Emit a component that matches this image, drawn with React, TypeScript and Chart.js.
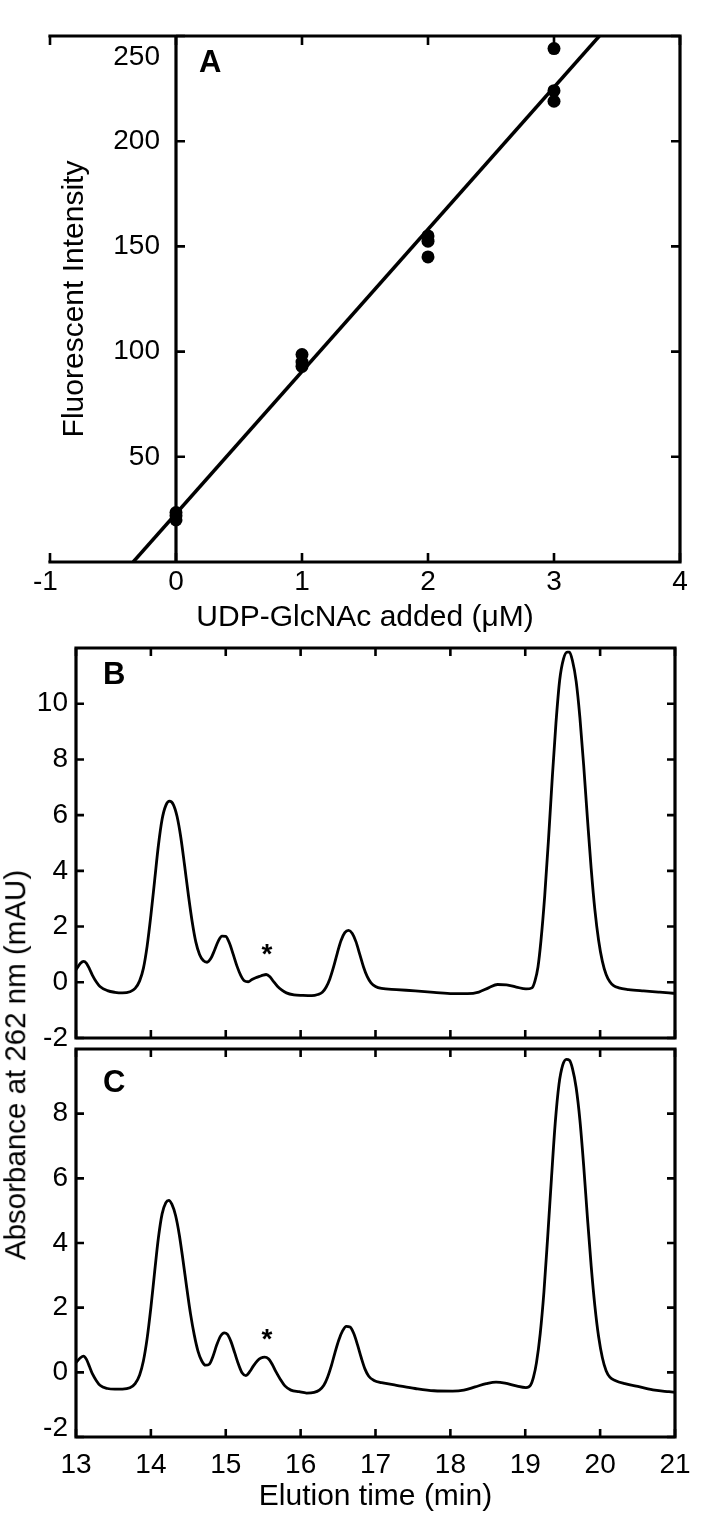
import React, { useEffect, useRef } from "react";
import { Chart, registerables } from "chart.js";

Chart.register(...registerables);

const FONT = '"Liberation Sans", Arial, Helvetica, sans-serif';

// ---------- Panel A : fluorescence vs UDP-GlcNAc ----------
const A_DOSE = [0, 0, 0, 1, 1, 1, 2, 2, 2, 3, 3, 3];
const A_INTENSITY = [23.5, 22, 20, 98.6, 95, 93, 155, 152.5, 145, 244, 224, 219];
const A_FIT_DOSE = [-0.34, 3.36];
const A_FIT_INTENSITY = [0, 250];
const A_X_TICKS = [-1, 0, 1, 2, 3, 4];
const A_Y_TICKS = [50, 100, 150, 200, 250];

// ---------- Panels B and C : chromatograms ----------
const TIME_TICKS = [13, 14, 15, 16, 17, 18, 19, 20, 21];
const B_Y_TICKS = [-2, 0, 2, 4, 6, 8, 10];
const C_Y_TICKS = [-2, 0, 2, 4, 6, 8];

const B_TIME = [
  13.0, 13.06, 13.1, 13.14, 13.18, 13.22, 13.27, 13.32, 13.42, 13.52, 13.62, 13.72, 13.79, 13.85, 13.9,
  13.95, 14.0, 14.05, 14.1, 14.15, 14.2, 14.25, 14.3, 14.35, 14.4, 14.45, 14.5, 14.55, 14.6,
  14.65, 14.7, 14.75, 14.8, 14.85, 14.9, 14.95, 15.0, 15.05, 15.1, 15.15, 15.2, 15.25, 15.3,
  15.35, 15.4, 15.45, 15.5, 15.54, 15.59, 15.64, 15.69, 15.75, 15.81, 15.91, 16.03, 16.15, 16.23,
  16.29, 16.34, 16.39, 16.44, 16.49, 16.54, 16.59, 16.64, 16.69, 16.74, 16.79, 16.84, 16.89, 16.94,
  17.0, 17.08, 17.28, 17.53, 17.78, 18.03, 18.23, 18.38, 18.51, 18.63, 18.75, 18.88, 19.01, 19.09, 19.13,
  19.17, 19.21, 19.26, 19.31, 19.36, 19.41, 19.46, 19.51, 19.56, 19.59, 19.63, 19.68, 19.73, 19.78,
  19.83, 19.88, 19.93, 19.98, 20.03, 20.08, 20.13, 20.18, 20.25, 20.38, 20.58, 20.78, 20.92, 21.0,
];
const B_ABS = [
  0.45, 0.68, 0.75, 0.68, 0.48, 0.25, 0.02, -0.15, -0.3, -0.36, -0.38, -0.34, -0.22, 0.05, 0.5,
  1.3, 2.4, 3.65, 4.9, 5.85, 6.35, 6.5, 6.38, 5.95, 5.2, 4.2, 3.15, 2.2, 1.45,
  1.0, 0.78, 0.72, 0.85, 1.15, 1.48, 1.66, 1.65, 1.4, 1.0, 0.58, 0.25, 0.05, 0.02,
  0.1, 0.16, 0.21, 0.26, 0.28, 0.2, 0.02, -0.14, -0.28, -0.38, -0.45, -0.47, -0.48, -0.44,
  -0.36, -0.18, 0.12, 0.55, 1.05, 1.5, 1.78, 1.86, 1.75, 1.45, 1.0, 0.55, 0.2, -0.02,
  -0.15, -0.22, -0.26, -0.31, -0.36, -0.41, -0.41, -0.35, -0.2, -0.08, -0.09, -0.17, -0.24, -0.2, 0.05,
  0.55, 1.5, 3.1, 5.1, 7.3, 9.3, 10.85, 11.6, 11.85, 11.85, 11.55, 10.8, 9.5, 7.8,
  5.9, 4.1, 2.6, 1.5, 0.75, 0.28, 0.02, -0.12, -0.2, -0.26, -0.31, -0.35, -0.38, -0.4,
];

const C_TIME = [
  13.0, 13.06, 13.1, 13.14, 13.18, 13.22, 13.27, 13.32, 13.42, 13.52, 13.62, 13.72, 13.79, 13.85, 13.9,
  13.95, 14.0, 14.05, 14.1, 14.15, 14.2, 14.24, 14.28, 14.33, 14.38, 14.43, 14.48, 14.53, 14.58,
  14.63, 14.68, 14.73, 14.78, 14.83, 14.88, 14.93, 14.98, 15.02, 15.07, 15.12, 15.17, 15.22, 15.27,
  15.32, 15.37, 15.42, 15.47, 15.52, 15.57, 15.62, 15.67, 15.73, 15.79, 15.87, 15.98, 16.08, 16.18,
  16.25, 16.31, 16.36, 16.41, 16.46, 16.51, 16.56, 16.61, 16.66, 16.71, 16.76, 16.81, 16.86, 16.91,
  16.98, 17.08, 17.28, 17.53, 17.78, 18.03, 18.18, 18.33, 18.48, 18.61, 18.73, 18.88, 19.01, 19.07,
  19.11, 19.15, 19.2, 19.25, 19.3, 19.35, 19.4, 19.45, 19.5, 19.55, 19.59, 19.63, 19.68, 19.73,
  19.78, 19.83, 19.88, 19.93, 19.98, 20.03, 20.08, 20.13, 20.2, 20.33, 20.53, 20.73, 20.92, 21.0,
];
const C_ABS = [
  0.3, 0.45, 0.5, 0.4, 0.18, -0.05, -0.25, -0.4, -0.5, -0.52, -0.52, -0.48, -0.35, -0.08, 0.35,
  1.05, 2.0, 3.1, 4.15, 4.9, 5.25, 5.32, 5.2, 4.85, 4.25, 3.45, 2.6, 1.8, 1.15,
  0.65, 0.35, 0.22, 0.25, 0.5, 0.85, 1.12, 1.22, 1.18, 0.95, 0.6, 0.25, -0.02, -0.1,
  0.02, 0.2, 0.35, 0.44, 0.47, 0.42, 0.25, 0.02, -0.22, -0.42, -0.55, -0.6, -0.64, -0.62,
  -0.55, -0.4, -0.15, 0.2, 0.62, 1.0, 1.28, 1.42, 1.4, 1.2, 0.85, 0.45, 0.1, -0.12,
  -0.25, -0.32, -0.4, -0.5, -0.57, -0.58, -0.55, -0.45, -0.35, -0.3, -0.33, -0.42, -0.47, -0.4,
  -0.15, 0.3, 1.2, 2.5, 4.2, 6.0, 7.7, 8.9, 9.5, 9.68, 9.65, 9.4, 8.8, 7.8,
  6.4, 4.8, 3.3, 2.05, 1.1, 0.45, 0.05, -0.15, -0.25, -0.35, -0.45, -0.55, -0.6, -0.62,
];

const STAR_TIME = 15.55;
const B_STAR_ABS = 1.2;
const C_STAR_ABS = 1.18;

// ---------- drawing helpers ----------
type FrameCfg = {
  box: boolean;
  axisAtX?: number;
  frameWidth: number;
  tickLen: number;
  xTicks: number[];
  yTicks: number[];
  xLabels?: number[];
  xLabelDy?: number;
  yLabels: number[];
  yLabelGap: number;
  yLabelShift?: Record<string, number>;
  tickFont: number;
  xTitle?: string;
  xTitleY?: number;
  yTitle?: string;
  yTitleX?: number;
  titleFont: number;
  letter: string;
  letterDx: number;
  letterDy: number;
  star?: { x: number; y: number };
};

function framePlugin(cfg: FrameCfg) {
  return {
    id: "frame",
    afterDraw(chart: any) {
      const ctx: CanvasRenderingContext2D = chart.ctx;
      const { left, right, top, bottom } = chart.chartArea;
      const xs = chart.scales.x;
      const ys = chart.scales.y;
      const x0 = cfg.axisAtX !== undefined ? xs.getPixelForValue(cfg.axisAtX) : left;
      ctx.save();
      ctx.strokeStyle = "#000";
      ctx.fillStyle = "#000";
      ctx.lineWidth = cfg.frameWidth;
      ctx.lineCap = "square";
      ctx.beginPath();
      if (cfg.box) {
        ctx.rect(left, top, right - left, bottom - top);
      } else {
        ctx.moveTo(left, top);
        ctx.lineTo(right, top);
        ctx.lineTo(right, bottom);
        ctx.lineTo(left, bottom);
        ctx.moveTo(x0, top);
        ctx.lineTo(x0, bottom);
      }
      ctx.stroke();

      ctx.lineWidth = 2.6;
      ctx.lineCap = "butt";
      ctx.beginPath();
      for (const v of cfg.xTicks) {
        const px = xs.getPixelForValue(v);
        ctx.moveTo(px, bottom);
        ctx.lineTo(px, bottom - cfg.tickLen);
        ctx.moveTo(px, top);
        ctx.lineTo(px, top + cfg.tickLen);
      }
      for (const v of cfg.yTicks) {
        const py = ys.getPixelForValue(v);
        ctx.moveTo(x0, py);
        ctx.lineTo(x0 + cfg.tickLen, py);
        ctx.moveTo(right, py);
        ctx.lineTo(right - cfg.tickLen, py);
      }
      ctx.stroke();

      ctx.font = `${cfg.tickFont}px ${FONT}`;
      ctx.textBaseline = "middle";
      if (cfg.xLabels) {
        for (const v of cfg.xLabels) {
          const px = xs.getPixelForValue(v);
          const txt = String(Math.abs(v));
          const py = bottom + (cfg.xLabelDy || 20);
          ctx.textAlign = "center";
          ctx.fillText(txt, px, py);
          if (v < 0) {
            const w = ctx.measureText(txt).width;
            ctx.textAlign = "right";
            ctx.fillText("-", px - w / 2, py);
          }
        }
      }
      ctx.textAlign = "right";
      for (const v of cfg.yLabels) {
        const shift = (cfg.yLabelShift && cfg.yLabelShift[String(v)]) || 0;
        const py = ys.getPixelForValue(v) + shift;
        ctx.fillText(String(v), x0 - cfg.yLabelGap, py);
      }

      ctx.font = `${cfg.titleFont}px ${FONT}`;
      if (cfg.xTitle) {
        ctx.textAlign = "center";
        ctx.fillText(cfg.xTitle, (left + right) / 2, cfg.xTitleY || bottom + 56);
      }
      if (cfg.yTitle) {
        ctx.save();
        ctx.translate(cfg.yTitleX || 83, (top + bottom) / 2);
        ctx.rotate(-Math.PI / 2);
        ctx.textAlign = "center";
        ctx.textBaseline = "alphabetic";
        ctx.fillText(cfg.yTitle, 0, 0);
        ctx.restore();
      }

      ctx.font = `bold 31px ${FONT}`;
      ctx.textAlign = "left";
      ctx.textBaseline = "middle";
      ctx.fillText(cfg.letter, x0 + cfg.letterDx, top + cfg.letterDy);

      if (cfg.star) {
        ctx.font = `bold 28px ${FONT}`;
        ctx.textAlign = "center";
        ctx.fillText("*", xs.getPixelForValue(cfg.star.x), ys.getPixelForValue(cfg.star.y) + 6.5);
      }
      ctx.restore();
    },
  };
}

function baseOptions(padding: any, xMin: number, xMax: number, yMin: number, yMax: number) {
  return {
    responsive: false,
    animation: false,
    devicePixelRatio: 1,
    events: [],
    layout: { padding },
    plugins: { legend: { display: false }, tooltip: { enabled: false } },
    scales: {
      x: { type: "linear", min: xMin, max: xMax, display: false },
      y: { type: "linear", min: yMin, max: yMax, display: false },
    },
  };
}

function pairs(xs: number[], ys: number[]) {
  return xs.map((x, i) => ({ x, y: ys[i] }));
}

function buildA(): any {
  return {
    type: "scatter",
    data: {
      datasets: [
        {
          type: "line",
          data: pairs(A_FIT_DOSE, A_FIT_INTENSITY),
          borderColor: "#000",
          borderWidth: 3.5,
          pointRadius: 0,
          fill: false,
        },
        {
          type: "scatter",
          data: pairs(A_DOSE, A_INTENSITY),
          pointRadius: 6.5,
          backgroundColor: "#000",
          borderWidth: 0,
          clip: false,
        },
      ],
    },
    options: baseOptions({ left: 50, right: 25, top: 36, bottom: 98 }, -1, 4, 0, 250),
    plugins: [
      framePlugin({
        box: false,
        axisAtX: 0,
        frameWidth: 3.2,
        tickLen: 9,
        xTicks: A_X_TICKS,
        yTicks: A_Y_TICKS,
        xLabels: A_X_TICKS,
        xLabelDy: 20,
        yLabels: A_Y_TICKS,
        yLabelGap: 16,
        yLabelShift: { "250": 21 },
        tickFont: 28,
        xTitle: "UDP-GlcNAc added (\u03bcM)",
        xTitleY: 618,
        yTitle: "Fluorescent Intensity",
        yTitleX: 83,
        titleFont: 30,
        letter: "A",
        letterDx: 23,
        letterDy: 27,
      }),
    ],
  };
}

function buildChrom(time: number[], abs: number[], yMax: number, yTicks: number[], isC: boolean): any {
  return {
    type: "line",
    data: {
      datasets: [
        {
          data: pairs(time, abs),
          borderColor: "#000",
          borderWidth: 2.8,
          pointRadius: 0,
          fill: false,
          cubicInterpolationMode: "monotone",
        },
      ],
    },
    options: baseOptions(
      isC ? { left: 76, right: 30, top: 9, bottom: 81 } : { left: 76, right: 30, top: 18, bottom: 22 },
      13,
      21,
      -2,
      yMax
    ),
    plugins: [
      framePlugin({
        box: true,
        frameWidth: 3.2,
        tickLen: 8,
        xTicks: TIME_TICKS,
        yTicks: yTicks,
        xLabels: isC ? TIME_TICKS : undefined,
        xLabelDy: 28,
        yLabels: yTicks,
        yLabelGap: 8,
        yLabelShift: isC ? { "-2": -9 } : {},
        tickFont: 28,
        xTitle: isC ? "Elution time (min)" : undefined,
        xTitleY: 457,
        titleFont: 30,
        letter: isC ? "C" : "B",
        letterDx: 27,
        letterDy: isC ? 34 : 27,
        star: { x: STAR_TIME, y: isC ? C_STAR_ABS : B_STAR_ABS },
      }),
    ],
  };
}

function ChartCanvas({ top, height, build }: { top: number; height: number; build: () => any }) {
  const ref = useRef<HTMLCanvasElement>(null);
  useEffect(() => {
    const chart = new Chart(ref.current as HTMLCanvasElement, build());
    return () => chart.destroy();
  }, []);
  return (
    <canvas
      ref={ref}
      width={705}
      height={height}
      style={{ position: "absolute", left: 0, top, width: 705, height }}
    />
  );
}

export default function App() {
  return (
    <div style={{ position: "absolute", left: 0, top: 0, width: 705, height: 1518, background: "#fff", overflow: "hidden" }}>
      <ChartCanvas top={0} height={660} build={buildA} />
      <ChartCanvas top={630} height={430} build={() => buildChrom(B_TIME, B_ABS, 12, B_Y_TICKS, false)} />
      <ChartCanvas top={1040} height={478} build={() => buildChrom(C_TIME, C_ABS, 10, C_Y_TICKS, true)} />
      <div
        style={{
          position: "absolute",
          left: 15,
          top: 1065,
          transform: "translate(-50%, -50%) rotate(-90deg)",
          whiteSpace: "nowrap",
          fontFamily: FONT,
          fontSize: 29.5,
          lineHeight: 1,
          color: "#000",
        }}
      >
        Absorbance at 262 nm (mAU)
      </div>
    </div>
  );
}
